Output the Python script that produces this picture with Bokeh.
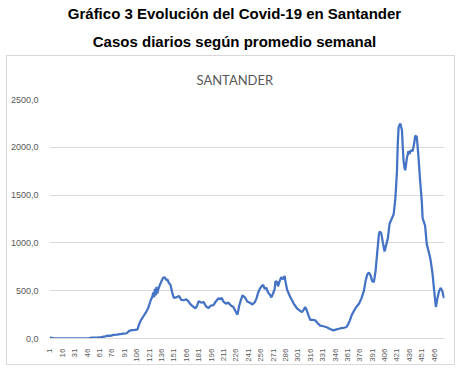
import math
from bokeh.plotting import figure
from bokeh.models import Range1d, FixedTicker, Div, Title
from bokeh.layouts import column
from bokeh.embed import file_html
from bokeh.resources import INLINE

title1 = "Gráfico 3 Evolución del Covid-19 en Santander"
title2 = "Casos diarios según promedio semanal"
inner_title = "SANTANDER"

days = [1, 5, 10, 20, 30, 40, 48, 52, 58, 63, 68, 71, 74, 78, 82, 86, 90, 94, 97, 100,
        104, 107, 109, 111, 114, 117, 120, 123, 125, 126, 127, 128, 129, 130, 131, 132,
        134, 136, 138, 140, 142, 143, 145, 147, 149, 151, 154, 157, 160, 163, 166, 168,
        171, 174, 177, 179, 181, 184, 187, 190, 193, 196, 199, 202, 205, 207, 209, 211,
        214, 217, 220, 223, 226, 228, 230, 232, 234, 237, 240, 243, 246, 249, 251, 253,
        255, 257, 259, 261, 263, 265, 267, 269, 271, 273, 274, 276, 277, 279, 281, 283,
        285, 286, 288, 290, 292, 294, 296, 298, 300, 303, 306, 308, 310, 312, 314, 316,
        319, 322, 325, 328, 332, 336, 340, 344, 348, 352, 356, 360, 362, 364, 366, 368,
        371, 375, 378, 381, 383, 385, 387, 389, 391, 393, 395, 397, 399, 400, 402, 404,
        406, 408, 410, 412, 415, 417, 419, 420, 421, 422, 423, 425, 427, 428, 429, 430,
        431, 433, 435, 436, 438, 440, 442, 443, 445, 447, 449, 451, 452, 455, 457, 459,
        461, 462, 464, 466, 468, 470, 472, 474, 476, 478]
cases = [10, 5, 2, 1, 1, 2, 3, 8, 10, 15, 22, 30, 28, 38, 40, 45, 50, 55, 80, 88,
         90, 95, 150, 190, 230, 270, 320, 400, 440, 480, 430, 520, 450, 540, 470, 510,
         560, 600, 635, 640, 610, 620, 580, 560, 480, 425, 430, 445, 405, 400, 410, 395,
         360, 335, 315, 340, 390, 375, 380, 335, 320, 345, 350, 390, 420, 410, 425, 385,
         365, 375, 345, 330, 280, 250, 340, 400, 450, 430, 385, 375, 355, 380, 420, 480,
         520, 545, 560, 520, 530, 480, 460, 430, 470, 520, 600, 590, 545, 600, 640, 620,
         655, 600, 510, 470, 430, 400, 365, 340, 315, 295, 275, 300, 330, 290, 240, 195,
         195, 190, 160, 135, 128, 118, 100, 85, 95, 105, 110, 120, 150, 190, 240, 275,
         320, 363, 420, 500, 600, 670, 690, 660, 600, 590, 700, 890, 1080, 1120, 1100, 1000,
         910, 980, 1050, 1200, 1260, 1300, 1460, 1600, 1760, 2050, 2210, 2250, 2180, 2000, 1860, 1790,
         1760, 1890, 1960, 1930, 1970, 1960, 2050, 2120, 2110, 1900, 1650, 1440, 1260, 1180, 990, 920,
         850, 800, 680, 500, 330, 420, 500, 530, 490, 420]

n_categories = 478
x_ticks = list(range(1, 467, 15))
y_ticks = [0, 500, 1000, 1500, 2000, 2500]
y_labels = {t: f"{t},0" for t in y_ticks}

head = Div(
    text=(f"<div style='font-family:\"Liberation Sans\";font-weight:bold;font-size:15px;"
          f"color:black;text-align:center;line-height:28px;width:469px;padding-top:0px'>"
          f"{title1}<br>{title2}</div>"),
    width=469, height=55, margin=(0, 0, 0, 0))

W, H = 449, 310
p = figure(width=W, height=H, output_backend="svg", toolbar_location=None,
           x_range=Range1d(0.5, n_categories + 0.5), y_range=Range1d(0, 2500),
           min_border_left=42, min_border_right=12, min_border_top=43, min_border_bottom=28,
           margin=(0, 0, 0, 6), title=None)
p.styles = {"border": "1px solid #d9d9d9"}
p.outline_line_color = None
p.background_fill_color = "white"
p.border_fill_color = "white"

p.add_layout(Title(text=inner_title, align="left", offset=147, standoff=24,
                   text_font="Lato", text_font_size="13px", text_font_style="normal",
                   text_color="#595959"), "above")

p.line(days, cases, line_color="#4472C4", line_width=2.25)

p.xgrid.visible = False
p.ygrid.grid_line_color = "#d9d9d9"
p.ygrid.ticker = FixedTicker(ticks=y_ticks)

p.xaxis.ticker = FixedTicker(ticks=x_ticks)
p.xaxis.major_label_orientation = math.pi / 2
p.xaxis.axis_line_color = "#d9d9d9"
p.xaxis.major_tick_line_color = None
p.xaxis.minor_tick_line_color = None
p.xaxis.major_label_text_font = "Liberation Sans"
p.xaxis.major_label_text_font_size = "8px"
p.xaxis.major_label_text_color = "#595959"
p.xaxis.major_label_standoff = 4

p.yaxis.ticker = FixedTicker(ticks=y_ticks)
p.yaxis.major_label_overrides = y_labels
p.yaxis.axis_line_color = None
p.yaxis.major_tick_line_color = None
p.yaxis.minor_tick_line_color = None
p.yaxis.major_label_text_font = "Liberation Sans"
p.yaxis.major_label_text_font_size = "9px"
p.yaxis.major_label_text_color = "#595959"
p.yaxis.major_label_standoff = 5

layout = column(head, p, spacing=0)
open("out.html", "w").write(file_html(layout, INLINE))
